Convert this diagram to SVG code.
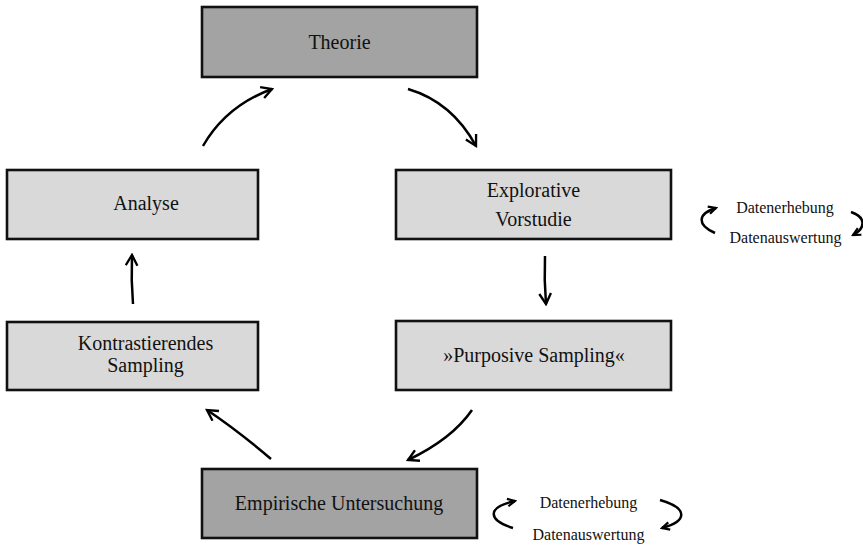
<svg xmlns="http://www.w3.org/2000/svg" width="863" height="545" viewBox="0 0 863 545">
<style>
.box{stroke:#111;stroke-width:2.6}
.light{fill:#d9d9d9}
.dark{fill:#a3a3a3}
text{font-family:"Liberation Serif","Times New Roman",serif;fill:#111;text-anchor:middle}
.t{font-size:20px}
.s{font-size:16px}
.c{fill:none;stroke:#000;stroke-width:2.5}
.big{marker-end:url(#ah)}
.sm{marker-end:url(#ahs)}
</style>
<defs>
<marker id="ah" viewBox="0 0 12 12" refX="10" refY="6" markerUnits="userSpaceOnUse" markerWidth="14" markerHeight="14" orient="auto">
<path d="M1,1 L10,6 L1,11" fill="none" stroke="#000" stroke-width="2"/>
</marker>
<marker id="ahs" viewBox="0 0 12 12" refX="10" refY="6" markerUnits="userSpaceOnUse" markerWidth="10" markerHeight="10" orient="auto">
<path d="M1,1.5 L10,6 L1,10.5" fill="none" stroke="#000" stroke-width="2.6"/>
</marker>
</defs>
<g id="theorie"><rect class="box dark" x="202" y="7" width="275" height="70"/><text class="t" x="339.5" y="49">Theorie</text></g>
<g id="explorative"><rect class="box light" x="396" y="170" width="275" height="69"/><text class="t" x="533.5" y="197">Explorative</text><text class="t" x="533.5" y="226">Vorstudie</text></g>
<g id="analyse"><rect class="box light" x="7" y="170" width="251" height="69"/><text class="t" x="146" y="210">Analyse</text></g>
<g id="kontrastierendes"><rect class="box light" x="7" y="322" width="251" height="68"/><text class="t" x="145.5" y="350">Kontrastierendes</text><text class="t" x="145.5" y="372">Sampling</text></g>
<g id="purposive"><rect class="box light" x="396" y="321" width="275" height="69"/><text class="t" x="534" y="362">»Purposive Sampling«</text></g>
<g id="empirische"><rect class="box dark" x="202" y="469" width="275" height="69"/><text class="t" x="339" y="510">Empirische Untersuchung</text></g>
<g id="zyklus-vorstudie"><text class="s" x="785" y="213">Datenerhebung</text><text class="s" x="785.5" y="243">Datenauswertung</text></g>
<g id="zyklus-empirie"><text class="s" x="588.5" y="508">Datenerhebung</text><text class="s" x="588.5" y="540">Datenauswertung</text></g>
<g id="connectors">
<path class="c big" d="M203,146 Q226,106 272,89"/>
<path class="c big" d="M408,89 Q452,102 476,146"/>
<path class="c big" d="M545,256 Q544,280 546,304"/>
<path class="c big" d="M472,410 Q452,439 408,460"/>
<path class="c big" d="M271,459 Q237,430 207,410"/>
<path class="c big" d="M133,304 Q131,280 132,255"/>
<path class="c sm" d="M715,233 C697,225 697,214 716,208"/>
<path class="c sm" d="M851,212 C866,217 866,228 853,235"/>
<path class="c sm" d="M513,528 C487,520 487,507 515,501"/>
<path class="c sm" d="M660,500 C688,508 688,521 662,528"/>
</g>
</svg>
